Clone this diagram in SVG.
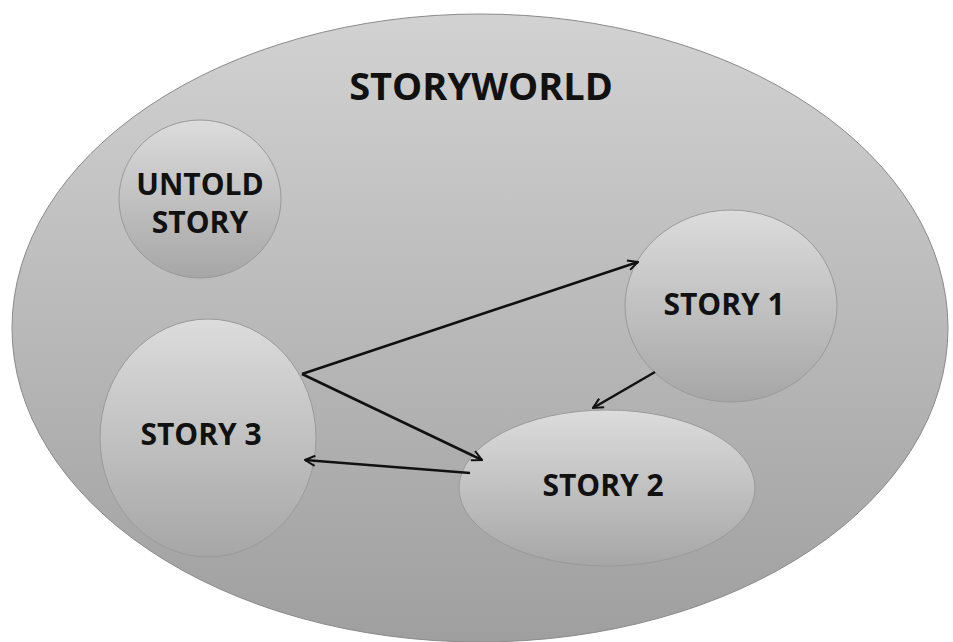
<svg xmlns="http://www.w3.org/2000/svg" width="953" height="642" viewBox="0 0 953 642">
<defs>
<linearGradient id="gOuter" x1="0" y1="0" x2="0" y2="1">
<stop offset="0" stop-color="#d2d2d2"/>
<stop offset="1" stop-color="#9f9f9f"/>
</linearGradient>
<linearGradient id="gNode" x1="0" y1="0" x2="0" y2="1">
<stop offset="0" stop-color="#dcdcdc"/>
<stop offset="1" stop-color="#a6a6a6"/>
</linearGradient>
<marker id="arr" viewBox="0 0 12 12" refX="11" refY="6" markerWidth="12" markerHeight="12" markerUnits="userSpaceOnUse" orient="auto">
<path d="M1,1 L11,6 L1,11" fill="none" stroke="#111" stroke-width="2"/>
</marker>
<style>
.node{fill:url(#gNode);stroke:#9a9a9a;stroke-width:1}
.lbl{font-family:"Open Sans","Liberation Sans",sans-serif;font-weight:bold;font-size:30px;fill:#111;text-anchor:middle}
.conn{stroke:#111;stroke-width:2.5;fill:none;marker-end:url(#arr)}
</style>
</defs>
<rect width="953" height="642" fill="#ffffff"/>
<g id="storyworld">
<ellipse cx="480" cy="328" rx="468" ry="314" fill="url(#gOuter)" stroke="#8a8a8a" stroke-width="1"/>
<text x="481" y="100" class="lbl" style="font-size:38px">STORYWORLD</text>
</g>
<g id="untold">
<ellipse cx="200" cy="199" rx="81" ry="79" class="node"/>
<text x="200" y="195" class="lbl">UNTOLD</text>
<text x="200" y="233" class="lbl">STORY</text>
</g>
<g id="story1">
<ellipse cx="731" cy="306" rx="106" ry="96" class="node"/>
<text x="724" y="315" class="lbl">STORY 1</text>
</g>
<g id="story3">
<ellipse cx="208" cy="438" rx="108" ry="119" class="node"/>
<text x="201" y="445" class="lbl">STORY 3</text>
</g>
<g id="story2">
<ellipse cx="607" cy="488" rx="148" ry="78" class="node"/>
<text x="603" y="496" class="lbl">STORY 2</text>
</g>
<g id="connectors">
<path class="conn" d="M302,374 L638,262"/>
<path class="conn" d="M302,374 L482,460"/>
<path class="conn" d="M655,372 L593,408"/>
<path class="conn" d="M470,473 L305,460"/>
</g>
</svg>
